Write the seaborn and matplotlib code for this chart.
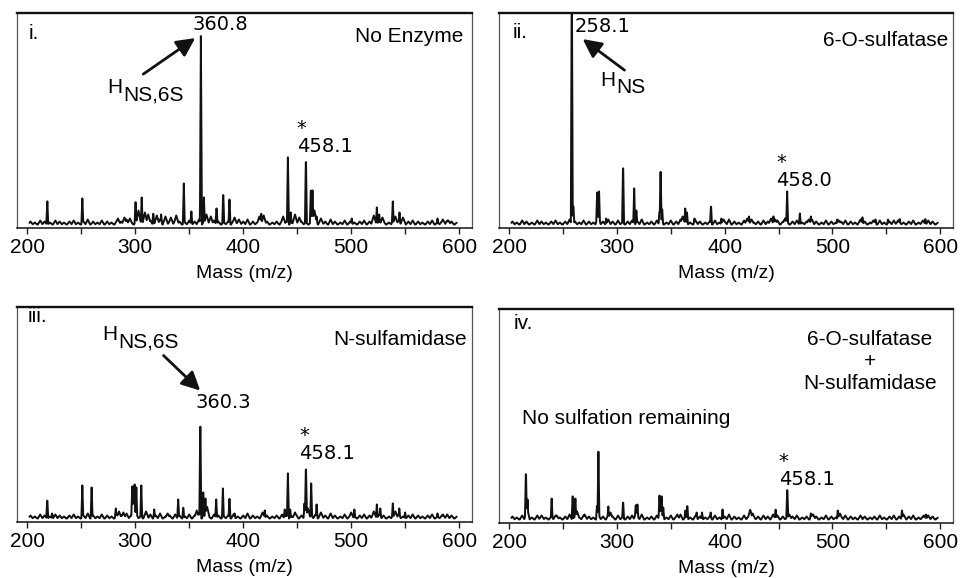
import numpy as np
import matplotlib
matplotlib.use("Agg")
import matplotlib.pyplot as plt
from matplotlib.ticker import MultipleLocator
import seaborn as sns

# panel tags and treatments
panel_tags = ["i.", "ii.", "iii.", "iv."]
treatments = ["No Enzyme", "6-O-sulfatase", "N-sulfamidase",
              "6-O-sulfatase\n+\nN-sulfamidase"]

# sharp peaks (m/z, relative intensity)
sharp_i = [(218.5, 26), (251, 26), (300.3, 25), (306, 27), (316.7, 12), (324, 10),
           (345, 41), (352, 13), (360.8, 188), (363.6, 27), (375.3, 18), (381.5, 33),
           (387.3, 28), (416.7, 12), (441.4, 67), (444, 12), (458.1, 70), (462.7, 38),
           (464.2, 34), (468, 8), (500.6, 6), (523.8, 17), (526, 10), (538.6, 23),
           (544.8, 12), (580, 6)]
broad_i = [(284, 6), (290, 7), (295, 6), (303, 14), (309, 12), (312, 10), (320, 9),
           (328, 8), (333, 7), (338, 9), (366, 10), (370, 8), (392, 7), (396, 5),
           (415, 8), (419, 9), (437, 8), (448, 10), (452, 7), (466, 14), (472, 6),
           (521, 9), (529, 7), (541, 8), (548, 7), (585, 5), (590, 4)]

sharp_ii = [(258.1, 260), (259.5, 20), (281.6, 32), (283.4, 33), (290, 6), (305.7, 63),
            (316, 36), (318, 14), (339.5, 14), (340.5, 59), (342, 15), (363.4, 16),
            (365, 12), (372, 6), (387.3, 20), (397, 6), (422.6, 8), (445.3, 9),
            (458.0, 33), (469.8, 11), (480, 8), (504.6, 5), (527.9, 8), (540, 5),
            (551.6, 5), (562.5, 6), (586.3, 6)]
broad_ii = [(282.5, 8), (361, 8), (399, 5), (421, 6), (425, 5), (443, 6), (447, 5),
            (456, 6), (478, 5), (506, 4), (526, 5), (538, 4), (561, 4), (584, 4)]

sharp_iii = [(218.5, 20), (223, 5), (251, 33), (259.6, 31), (282, 10), (297.2, 32),
             (299.4, 34), (301, 31), (305.6, 33), (317.6, 9), (339.8, 19), (344.5, 12),
             (360.3, 103), (363, 26), (365, 20), (375, 19), (381.2, 30), (387.3, 22),
             (392, 5), (420, 8), (438.5, 10), (441.4, 45), (443.5, 10), (456.8, 15),
             (458.1, 55), (463, 35), (468, 14), (503, 9), (523.8, 14), (527, 10),
             (538.6, 15), (544.6, 10), (550, 6), (580, 5)]
broad_iii = [(285, 7), (289, 6), (298.5, 20), (310, 7), (330, 5), (357, 8), (366.5, 12),
             (418, 6), (448, 6), (460, 10), (472, 6), (500, 6), (521, 7), (541, 7), (585, 4)]

sharp_iv = [(215.5, 51), (217, 20), (239.4, 21), (258.9, 26), (261.4, 21), (281.5, 15),
            (282.8, 68), (292, 13), (305.7, 19), (317.5, 16), (319, 15), (339.5, 27),
            (341.5, 26), (343, 12), (363.5, 10), (365.3, 15), (374, 7), (379, 7),
            (387, 7), (398, 10), (447.3, 11), (458.1, 33), (480, 6), (505, 9),
            (564.6, 9), (587, 5)]
broad_iv = [(216.5, 12), (230, 4), (244, 4), (263, 8), (270, 5), (294, 7), (318, 8),
            (340.5, 10), (356, 5), (423.7, 10), (426, 6), (445, 5), (460, 5), (482, 5),
            (507, 6), (566, 5), (585, 4)]

# low-level chemical noise common to all traces
baseline_noise = [(203, 3), (207, 2), (212, 4), (216, 3), (221, 2), (226, 4), (230, 3),
                  (234, 2), (239, 3), (243, 4), (247, 2), (252, 3), (256, 5), (261, 3),
                  (265, 2), (269, 4), (274, 3), (278, 2), (283, 4), (287, 3), (292, 5),
                  (296, 3), (301, 4), (305, 2), (310, 3), (314, 4), (319, 3), (323, 5),
                  (328, 2), (332, 3), (337, 4), (341, 3), (346, 2), (350, 4), (355, 3),
                  (359, 5), (364, 3), (368, 2), (373, 4), (377, 3), (382, 2), (386, 3),
                  (391, 4), (395, 2), (400, 3), (404, 5), (409, 3), (413, 2), (418, 4),
                  (422, 3), (427, 2), (431, 3), (436, 4), (440, 3), (445, 2), (449, 4),
                  (454, 3), (458, 2), (463, 3), (467, 4), (472, 2), (476, 3), (481, 5),
                  (485, 3), (490, 2), (494, 4), (499, 3), (503, 2), (508, 3), (512, 4),
                  (517, 3), (521, 2), (526, 4), (530, 3), (535, 2), (539, 3), (544, 4),
                  (548, 2), (553, 3), (557, 4), (562, 3), (566, 2), (571, 3), (575, 4),
                  (580, 2), (584, 3), (589, 4), (593, 3), (598, 2)]

peaks = [(sharp_i, broad_i), (sharp_ii, broad_ii), (sharp_iii, broad_iii), (sharp_iv, broad_iv)]

# internal standard label under the asterisk, per panel
standard_labels = ["458.1", "458.0", "458.1", "458.1"]


def trace(grid, sharp, broad):
    y = np.zeros_like(grid)
    for group, hw in ((baseline_noise, 2.2), (broad, 2.5), (sharp, 0.9)):
        for mz, h in group:
            y = np.maximum(y, h * np.clip(1 - np.abs(grid - mz) / hw, 0, None))
    return y


sns.set_theme(style="white")
plt.rcParams["font.family"] = ["Liberation Sans", "DejaVu Sans"]
plt.rcParams["text.color"] = "black"
plt.rcParams["axes.labelcolor"] = "black"
plt.rcParams["xtick.color"] = "black"

fig = plt.figure(figsize=(9.62, 5.78), dpi=100)
boxes = [[0.0177, 0.6055, 0.473, 0.372], [0.5187, 0.6055, 0.472, 0.372],
         [0.0177, 0.0969, 0.473, 0.372], [0.5187, 0.0952, 0.472, 0.370]]
grid = np.arange(202, 598, 0.2)
axes = []
for k, box in enumerate(boxes):
    ax = fig.add_axes(box)
    sharp, broad = peaks[k]
    sns.lineplot(x=grid, y=trace(grid, sharp, broad), ax=ax, color="#111111",
                 linewidth=1.4, errorbar=None)
    ax.set_xlim(190.5, 612)
    ax.set_ylim(-3.5, 211)
    ax.set_yticks([])
    ax.set_xticks([200, 300, 400, 500, 600])
    ax.xaxis.set_minor_locator(MultipleLocator(50))
    ax.tick_params(axis="x", which="both", bottom=True, direction="out", length=4,
                   width=1, color="#222222", pad=3, labelsize=15)
    ax.set_xlabel("Mass (m/z)", fontsize=14, labelpad=6)
    for side in ["left", "right"]:
        ax.spines[side].set_linewidth(0.9)
        ax.spines[side].set_color("#555555")
    ax.spines["bottom"].set_linewidth(1.1)
    ax.spines["bottom"].set_color("#111111")
    ax.spines["top"].set_linewidth(1.7)
    ax.spines["top"].set_color("#111111")
    axes.append(ax)

tag_pos = [(0.026, 0.907), (0.031, 0.91), (0.024, 0.958), (0.032, 0.933)]
for ax, tag, (tx, ty) in zip(axes, panel_tags, tag_pos):
    ax.text(tx, ty, tag, transform=ax.transAxes, ha="left", va="center", fontsize=15)

axes[0].text(0.980, 0.893, treatments[0], transform=axes[0].transAxes, ha="right", va="center", fontsize=15)
axes[1].text(0.989, 0.87, treatments[1], transform=axes[1].transAxes, ha="right", va="center", fontsize=15)
axes[2].text(0.988, 0.847, treatments[2], transform=axes[2].transAxes, ha="right", va="center", fontsize=15)
axes[3].text(0.817, 0.754, treatments[3], transform=axes[3].transAxes, ha="center", va="center",
             fontsize=15, linespacing=1.2)
axes[3].text(0.05, 0.489, "No sulfation remaining", transform=axes[3].transAxes, ha="left",
             va="center", fontsize=15)

num = dict(ha="center", va="center", fontsize=14, family="DejaVu Sans")
arrow = dict(arrowstyle="-|>", lw=2, color="#111111", mutation_scale=28, shrinkA=0, shrinkB=0)

# asterisk + standard label, anchored at the bottom-left of the number
std_pos = [(449.7, 68), (448.1, 34), (451.9, 55), (450.2, 30.7)]
for ax, lab, (sx, sy) in zip(axes, standard_labels, std_pos):
    ax.text(sx, sy, "*\n" + lab, ha="left", va="bottom", multialignment="left",
            fontsize=14, family="DejaVu Sans", linespacing=0.93)

ax = axes[0]
ax.text(378.5, 200, "360.8", **num)
ax.annotate("", xy=(355.6, 186), xytext=(307.4, 150), arrowprops=arrow)
ax.text(288.0, 137, "H", ha="right", va="center", fontsize=15)
ax.text(288.9, 129, "NS,6S", ha="left", va="center", fontsize=15)

ax = axes[1]
ax.text(286.8, 198, "258.1", **num)
ax.annotate("", xy=(268.2, 185), xytext=(307, 154), arrowprops=arrow)
ax.text(298.4, 144, "H", ha="right", va="center", fontsize=15)
ax.text(299.2, 137, "NS", ha="left", va="center", fontsize=15)

ax = axes[2]
ax.text(283.6, 184, "H", ha="right", va="center", fontsize=15)
ax.text(284.5, 176, "NS,6S", ha="left", va="center", fontsize=15)
ax.annotate("", xy=(360.2, 127.6), xytext=(326.2, 162.6), arrowprops=arrow)
ax.text(381.8, 115.3, "360.3", **num)

fig.savefig("out.png", dpi=100)
plt.close(fig)
